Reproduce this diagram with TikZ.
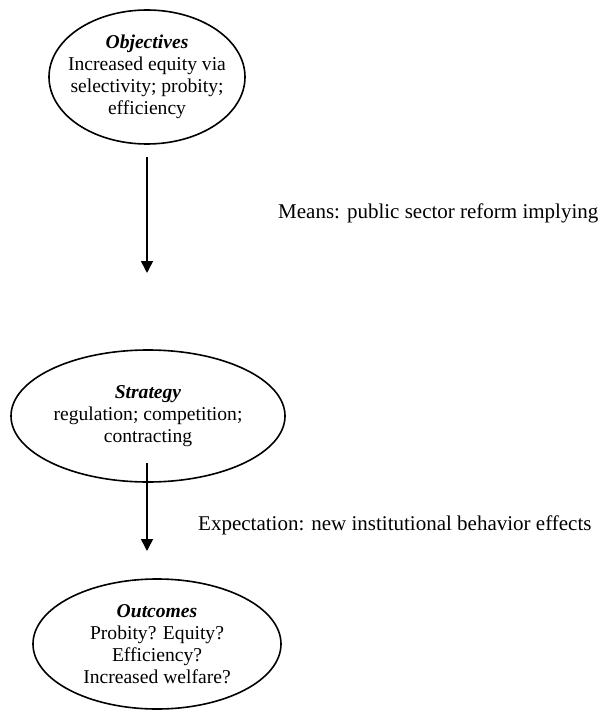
\documentclass[tikz,border=0pt]{standalone}
\usepackage{fontspec}
\setmainfont{Liberation Serif}
\usetikzlibrary{shapes.geometric,arrows.meta}
\begin{document}
\begin{tikzpicture}[x=1pt,y=-1pt,
  oval/.style={ellipse,draw,line width=1.6pt,inner sep=0pt},
  txt/.style={align=center,inner sep=0pt,font=\fontsize{19.6}{22}\selectfont},
  lbl/.style={anchor=west,inner sep=0pt,font=\fontsize{21}{22}\selectfont},
  arr/.style={line width=1.6pt,-{Triangle[length=12pt,width=12pt]}}]
\useasboundingbox (0,0) rectangle (602,711);
\node[oval,minimum width=196pt,minimum height=134pt] (obj) at (147,77) {};
\node[txt] (objt) at (obj.center)
  {\textbf{\textit{Objectives}}\\Increased equity via\\selectivity; probity;\\efficiency};
\node[oval,minimum width=274pt,minimum height=132pt] (str) at (148,416) {};
\node[txt] (strt) at (str.center)
  {\textbf{\textit{Strategy}}\\regulation; competition;\\contracting};
\node[oval,minimum width=248pt,minimum height=130pt] (out) at (157,644) {};
\node[txt] (outt) at (out.center)
  {\textbf{\textit{Outcomes}}\\Probity? Equity?\\Efficiency?\\Increased welfare?};
\coordinate (a1s) at (147,157);
\coordinate (a1e) at (147,273);
\coordinate (a2s) at (147,463);
\coordinate (a2e) at (147,551);
\draw[arr] (a1s) -- (a1e);
\draw[arr] (a2s) -- (a2e);
\node[lbl] (means) at (278,213) {Means: public sector reform implying};
\node[lbl] (expect) at (198,525) {Expectation: new institutional behavior effects};
\end{tikzpicture}
\end{document}
